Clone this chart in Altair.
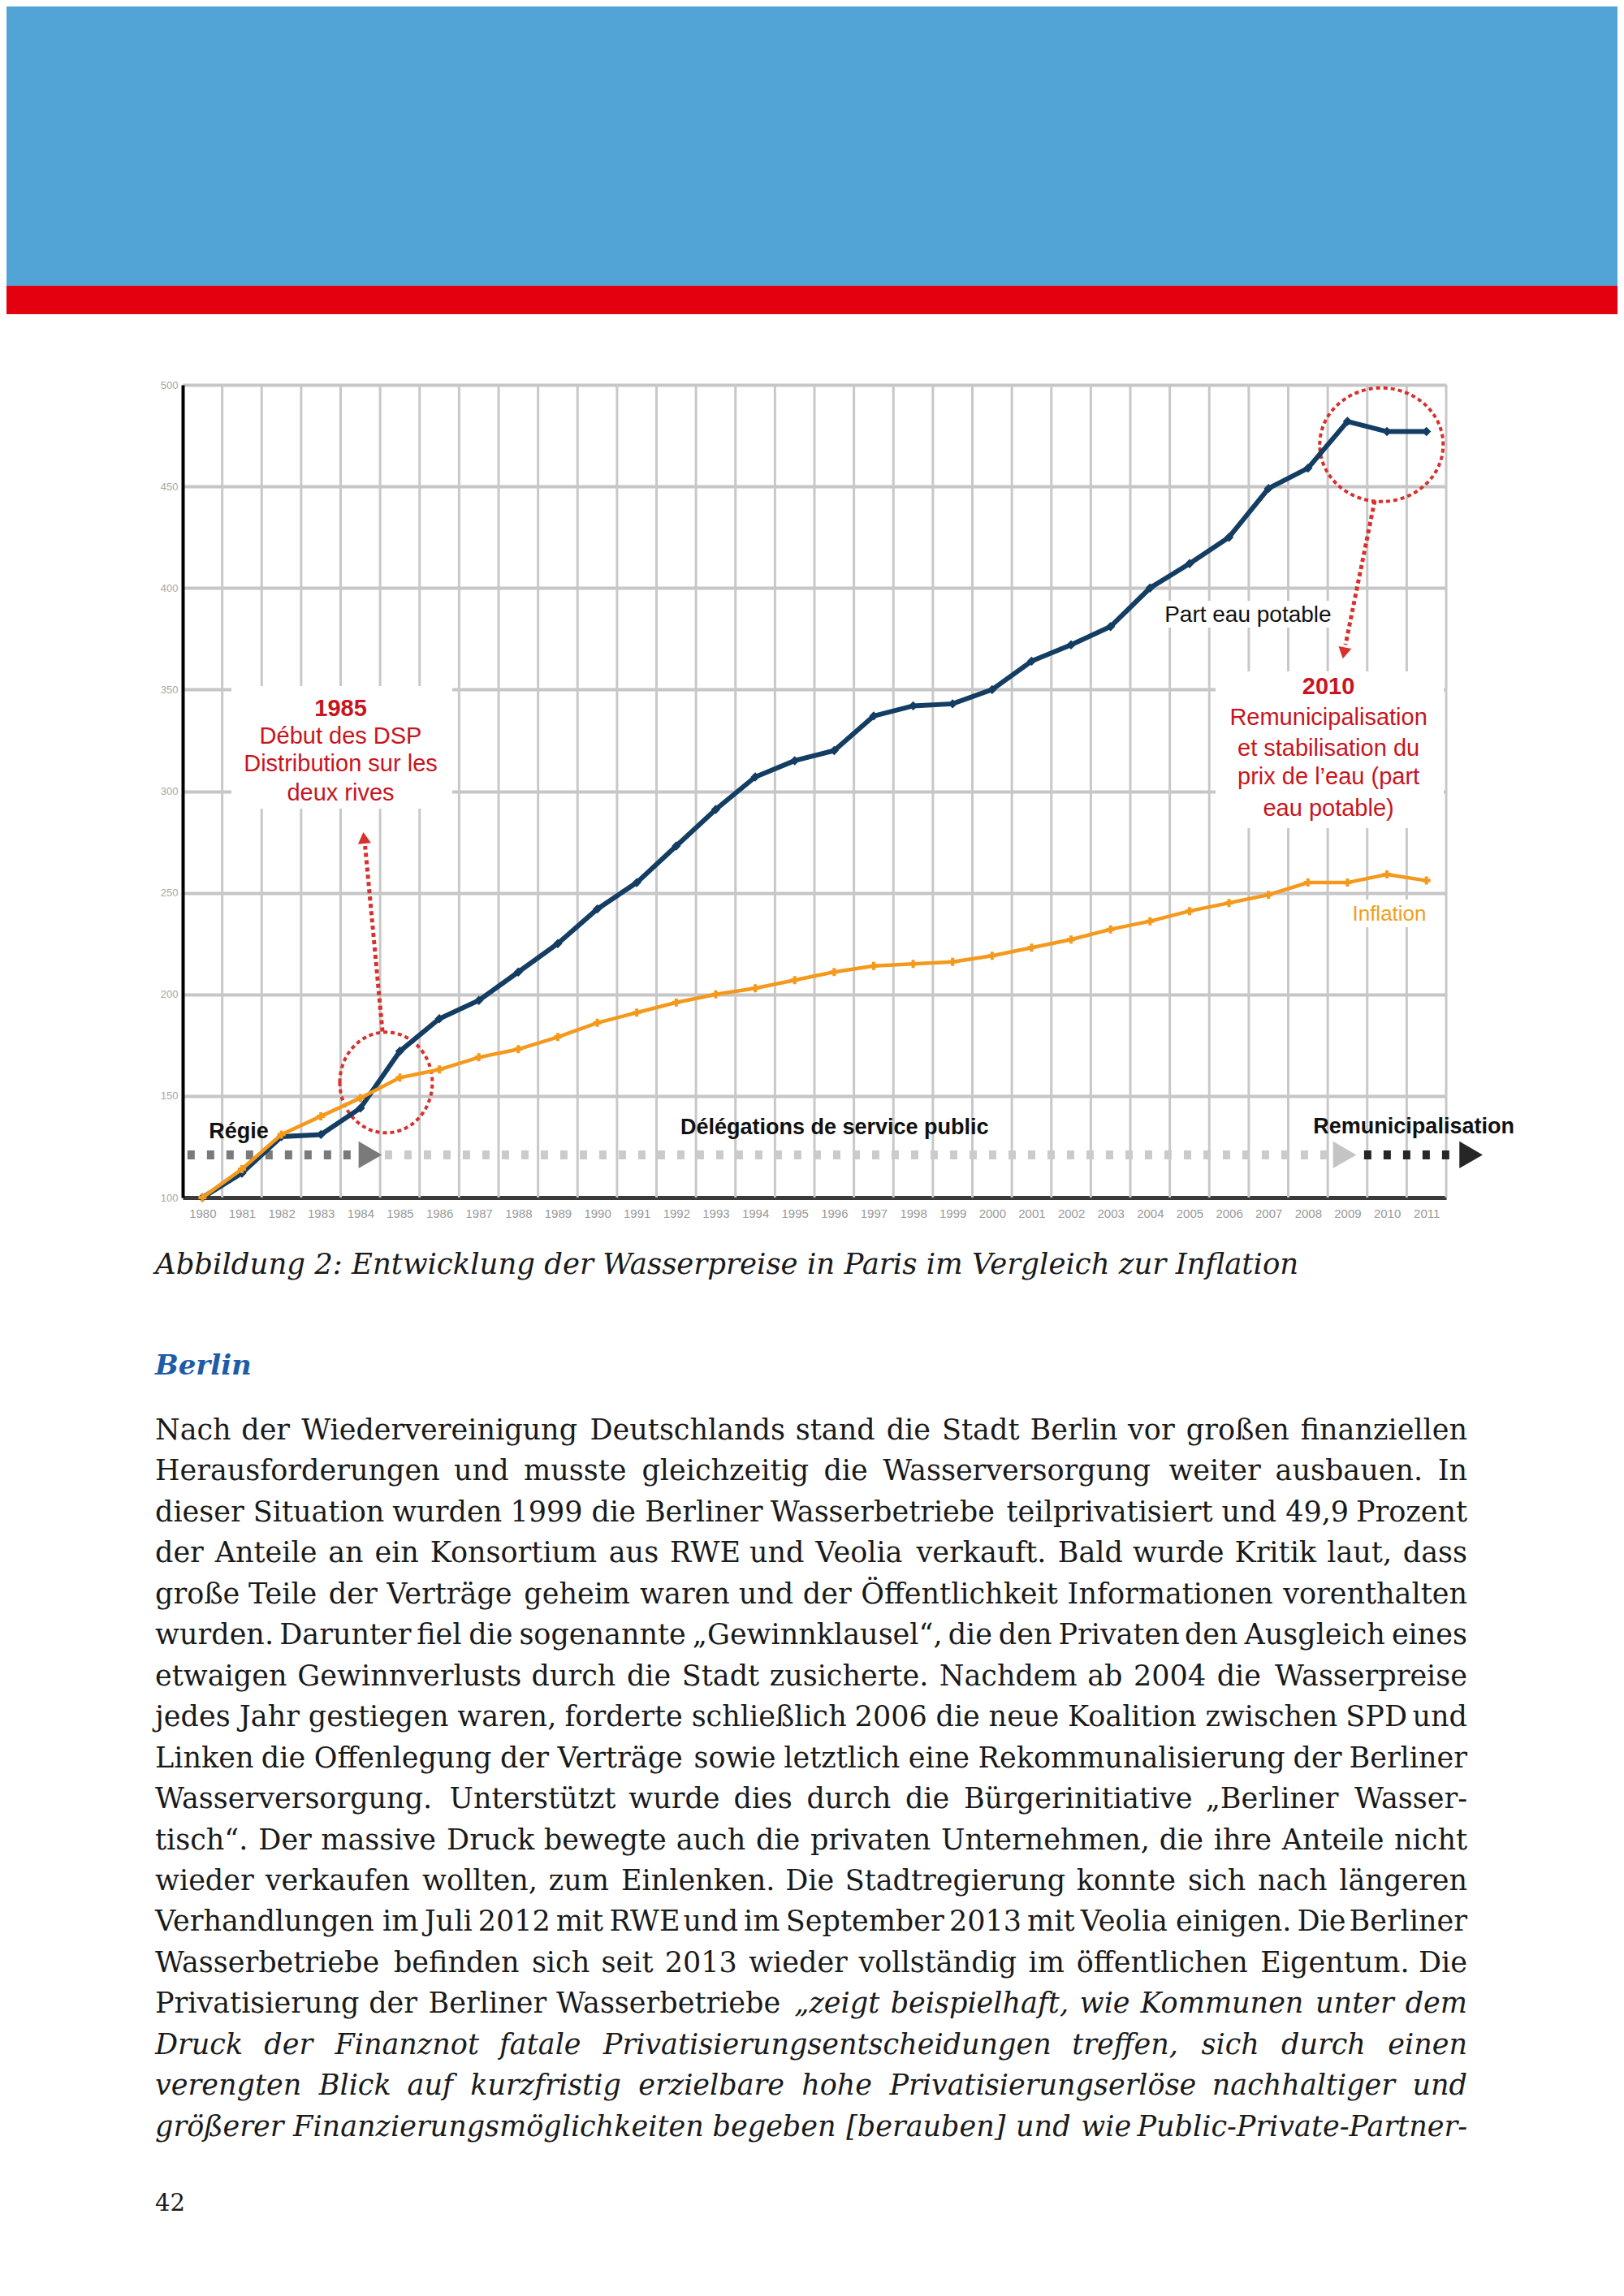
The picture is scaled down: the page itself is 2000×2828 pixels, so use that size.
import altair as alt
import pandas as pd

# ---------------- data ----------------
years = list(range(1980, 2012))
eau_potable = [100, 112, 130, 131, 144, 172, 188, 197, 211, 225,
               242, 255, 273, 291, 307, 315, 320, 337, 342, 343,
               350, 364, 372, 381, 400, 412, 425, 449, 459, 482,
               477, 477]
inflation = [100, 114, 131, 140, 149, 159, 163, 169, 173, 179,
             186, 191, 196, 200, 203, 207, 211, 214, 215, 216,
             219, 223, 227, 232, 236, 241, 245, 249, 255, 255,
             259, 256]
y_ticks = [100, 150, 200, 250, 300, 350, 400, 450, 500]

ann_1985 = ["1985", "Début des DSP", "Distribution sur les", "deux rives"]
ann_2010 = ["2010", "Remunicipalisation", "et stabilisation du",
            "prix de l’eau (part", "eau potable)"]
series_label = "Part eau potable"
inflation_label = "Inflation"
phase_labels = ["Régie", "Délégations de service public", "Remunicipalisation"]

caption = "Abbildung 2: Entwicklung der Wasserpreise in Paris im Vergleich zur Inflation"
heading = "Berlin"
# each body line: list of (text, italic)
body_lines = [
    [("Nach der Wiedervereinigung Deutschlands stand die Stadt Berlin vor großen finanziellen", False)],
    [("Herausforderungen und musste gleichzeitig die Wasserversorgung weiter ausbauen. In", False)],
    [("dieser Situation wurden 1999 die Berliner Wasserbetriebe teilprivatisiert und 49,9 Prozent", False)],
    [("der Anteile an ein Konsortium aus RWE und Veolia verkauft. Bald wurde Kritik laut, dass", False)],
    [("große Teile der Verträge geheim waren und der Öffentlichkeit Informationen vorenthalten", False)],
    [("wurden. Darunter fiel die sogenannte „Gewinnklausel“, die den Privaten den Ausgleich eines", False)],
    [("etwaigen Gewinnverlusts durch die Stadt zusicherte. Nachdem ab 2004 die Wasserpreise", False)],
    [("jedes Jahr gestiegen waren, forderte schließlich 2006 die neue Koalition zwischen SPD und", False)],
    [("Linken die Offenlegung der Verträge sowie letztlich eine Rekommunalisierung der Berliner", False)],
    [("Wasserversorgung. Unterstützt wurde dies durch die Bürgerinitiative „Berliner Wasser-", False)],
    [("tisch“. Der massive Druck bewegte auch die privaten Unternehmen, die ihre Anteile nicht", False)],
    [("wieder verkaufen wollten, zum Einlenken. Die Stadtregierung konnte sich nach längeren", False)],
    [("Verhandlungen im Juli 2012 mit RWE und im September 2013 mit Veolia einigen. Die Berliner", False)],
    [("Wasserbetriebe befinden sich seit 2013 wieder vollständig im öffentlichen Eigentum. Die", False)],
    [("Privatisierung der Berliner Wasserbetriebe", False),
     ("„zeigt beispielhaft, wie Kommunen unter dem", True)],
    [("Druck der Finanznot fatale Privatisierungsentscheidungen treffen, sich durch einen", True)],
    [("verengten Blick auf kurzfristig erzielbare hohe Privatisierungserlöse nachhaltiger und", True)],
    [("größerer Finanzierungsmöglichkeiten begeben [berauben] und wie Public-Private-Partner-", True)],
]
page_number = "42"

# ---------------- layout ----------------
W, H = 1556, 1001          # plot area
LEFT, TOP = 225, 474       # page position of plot area


def px(x):
    return x - LEFT


def py(y):
    return y - TOP


BLUE = "#133d63"
ORANGE = "#f4991c"
RED = "#c8151d"
SANS = "Liberation Sans"
SERIF = "DejaVu Serif"

xscale = alt.Scale(domain=[1979.5, 2011.5], nice=False, zero=False)
yscale = alt.Scale(domain=[100, 500], nice=False, zero=False)
xaxis = alt.Axis(values=years, format="d", grid=False, ticks=False,
                 labelFontSize=15, labelColor="#999999", labelFont=SANS,
                 domainColor="#3a3a3a", domainWidth=5, labelPadding=12,
                 labelFlush=False, labelOverlap=False, title=None)
yaxis = alt.Axis(values=y_ticks, grid=True, gridColor="#c6c6c6", gridWidth=4,
                 ticks=False, labelFontSize=13, labelColor="#a6a6a6",
                 labelFont=SANS, domainColor="#000000", domainWidth=4,
                 labelPadding=6, title=None)


def X(f="year"):
    return alt.X(f"{f}:Q", scale=xscale, axis=xaxis, title=None)


def Y(f="value"):
    return alt.Y(f"{f}:Q", scale=yscale, axis=yaxis, title=None)


one = pd.DataFrame({"k": [0]})
layers = []

# page header bands
layers.append(alt.Chart(one).mark_rect(color="#52a3d6").encode(
    x=alt.value(px(8)), x2=alt.value(px(1992)), y=alt.value(py(8)), y2=alt.value(py(352))))
layers.append(alt.Chart(one).mark_rect(color="#e3000f").encode(
    x=alt.value(px(8)), x2=alt.value(px(1992)), y=alt.value(py(352)), y2=alt.value(py(387))))

# vertical grid lines at year boundaries
bounds = pd.DataFrame({"year": [y + 0.5 for y in years]})
layers.append(alt.Chart(bounds).mark_rule(color="#c8c8c8", strokeWidth=3).encode(
    x=X(), y=alt.value(0), y2=alt.value(H)))

# white boxes behind annotations
boxes = [(285, 557, 845, 996), (1497, 1778, 827, 1020), (1433, 1645, 740, 773), (1660, 1762, 1108, 1142)]
for x1, x2, y1, y2 in boxes:
    layers.append(alt.Chart(one).mark_rect(color="white").encode(
        x=alt.value(px(x1)), x2=alt.value(px(x2)), y=alt.value(py(y1)), y2=alt.value(py(y2))))

# phase band (dashed arrows)
band_value = 121
segs = pd.DataFrame({
    "year": [1979.62, 1984.62, 2009.42],
    "year2": [1983.9, 2008.55, 2011.7],
    "value": [band_value] * 3,
    "col": ["#7a7a7a", "#cbcbcb", "#262626"],
})
layers.append(alt.Chart(segs).mark_rule(strokeWidth=11, strokeDash=[9, 15]).encode(
    x=X(), x2="year2:Q", y=Y(), color=alt.Color("col:N", scale=None)))
heads = pd.DataFrame({
    "year": [1984.25, 2008.93, 2012.13],
    "value": [band_value] * 3,
    "col": ["#7a7a7a", "#c4c4c4", "#262626"],
})
layers.append(alt.Chart(heads).mark_point(shape="triangle-right", filled=True, size=1100, opacity=1).encode(
    x=X(), y=Y(), color=alt.Color("col:N", scale=None)))

# red ellipses
e1 = pd.DataFrame({"year": [1984.65], "value": [156.6]})
layers.append(alt.Chart(e1).mark_point(
    shape="M -0.919 0 A 0.919 1 0 1 1 0.919 0 A 0.919 1 0 1 1 -0.919 0 Z",
    size=15376, filled=False, stroke="#d8302c", strokeWidth=4, strokeDash=[5, 4], opacity=1
).encode(x=X(), y=Y()))
e2 = pd.DataFrame({"year": [2009.86], "value": [470.5]})
layers.append(alt.Chart(e2).mark_point(
    shape="M -1 0 A 1 0.921 0 1 1 1 0 A 1 0.921 0 1 1 -1 0 Z",
    size=23104, filled=False, stroke="#d8302c", strokeWidth=4, strokeDash=[5, 4], opacity=1
).encode(x=X(), y=Y()))

# red dotted arrows
arrows = pd.DataFrame({
    "year": [1984.56, 2009.69], "value": [181.7, 443.0],
    "year2": [1984.12, 2008.95], "value2": [273.0, 372.0],
})
layers.append(alt.Chart(arrows).mark_rule(color="#d8302c", strokeWidth=5, strokeDash=[5, 4]).encode(
    x=X(), y=Y(), x2="year2:Q", y2="value2:Q"))
layers.append(alt.Chart(pd.DataFrame({"year": [1984.09], "value": [277.0]})).mark_point(
    shape="triangle-up", filled=True, size=260, color="#d8302c", opacity=1, angle=354).encode(x=X(), y=Y()))
layers.append(alt.Chart(pd.DataFrame({"year": [2008.91], "value": [368.0]})).mark_point(
    shape="triangle-down", filled=True, size=260, color="#d8302c", opacity=1, angle=11).encode(x=X(), y=Y()))

# series
blue_df = pd.DataFrame({"year": years, "value": eau_potable})
orange_df = pd.DataFrame({"year": years, "value": inflation})
layers.append(alt.Chart(blue_df).mark_line(color=BLUE, strokeWidth=6).encode(x=X(), y=Y()))
layers.append(alt.Chart(blue_df).mark_point(shape="diamond", filled=True, size=130, color=BLUE, opacity=1).encode(x=X(), y=Y()))
layers.append(alt.Chart(orange_df).mark_line(color=ORANGE, strokeWidth=4.5).encode(x=X(), y=Y()))
layers.append(alt.Chart(orange_df).mark_point(shape="cross", filled=True, size=100, color=ORANGE, opacity=1).encode(x=X(), y=Y()))

# annotation texts (data coordinates)
a1 = pd.DataFrame({"year": [1983.5] * 3, "value": [327.1, 313.5, 299.2], "t": ann_1985[1:]})
layers.append(alt.Chart(pd.DataFrame({"year": [1983.5], "value": [340.6], "t": [ann_1985[0]]})).mark_text(
    font=SANS, fontSize=29, fontWeight="bold", color=RED).encode(x=X(), y=Y(), text="t:N"))
layers.append(alt.Chart(a1).mark_text(font=SANS, fontSize=29, color=RED).encode(x=X(), y=Y(), text="t:N"))

a2 = pd.DataFrame({"year": [2008.52] * 4, "value": [336.3, 321.1, 306.8, 291.6], "t": ann_2010[1:]})
layers.append(alt.Chart(pd.DataFrame({"year": [2008.52], "value": [351.4], "t": [ann_2010[0]]})).mark_text(
    font=SANS, fontSize=29, fontWeight="bold", color=RED).encode(x=X(), y=Y(), text="t:N"))
layers.append(alt.Chart(a2).mark_text(font=SANS, fontSize=29, color=RED).encode(x=X(), y=Y(), text="t:N"))

layers.append(alt.Chart(pd.DataFrame({"year": [2006.48], "value": [386.5], "t": [series_label]})).mark_text(
    font=SANS, fontSize=28, color="#111111").encode(x=X(), y=Y(), text="t:N"))
layers.append(alt.Chart(pd.DataFrame({"year": [2010.06], "value": [239.5], "t": [inflation_label]})).mark_text(
    font=SANS, fontSize=26, color="#f2a01a").encode(x=X(), y=Y(), text="t:N"))

phases = pd.DataFrame({"year": [1980.92, 1996.01, 2010.68], "value": [132.3, 134.3, 134.9], "t": phase_labels})
layers.append(alt.Chart(phases).mark_text(font=SANS, fontSize=27, fontWeight="bold", color="#111111").encode(
    x=X(), y=Y(), text="t:N"))


# ---------------- page texts ----------------
def page_text(s, x, y, size, align="left", **kw):
    return alt.Chart(one).mark_text(text=s, align=align, baseline="middle", fontSize=size,
                                    font=SERIF, **kw).encode(x=alt.value(px(x)), y=alt.value(py(y)))


# approximate DejaVu Serif advance widths (em), used only to justify lines
CW = {" ": .318, ".": .318, ",": .318, "-": .338, ":": .337, "„": .52, "“": .52,
      "[": .39, "]": .39, "(": .39, ")": .39,
      "a": .596, "b": .640, "c": .559, "d": .640, "e": .592, "f": .372, "g": .640,
      "h": .645, "i": .320, "j": .320, "k": .611, "l": .320, "m": .960, "n": .645,
      "o": .602, "p": .640, "q": .640, "r": .478, "s": .513, "t": .401, "u": .645,
      "v": .569, "w": .835, "x": .569, "y": .569, "z": .523, "ß": .640,
      "ä": .596, "ö": .602, "ü": .645,
      "A": .722, "B": .688, "C": .732, "D": .765, "E": .668, "F": .628, "G": .778,
      "H": .835, "I": .394, "J": .40, "K": .725, "L": .621, "M": .997, "N": .833,
      "O": .787, "P": .614, "R": .698, "S": .657, "T": .673, "U": .802, "V": .722,
      "W": 1.042, "Z": .667, "Ö": .787}
for d in "0123456789":
    CW[d] = .636

BODY = 35
L_MARGIN, R_MARGIN = 191, 1807
line_y0, line_step = 1762, 50.45

rows = []
for i, segments in enumerate(body_lines):
    words = []
    for text, it in segments:
        for w in text.split(" "):
            words.append((w, it))
    widths = [sum(CW.get(c, .6) for c in w) * BODY for w, _ in words]
    gap = (R_MARGIN - L_MARGIN - sum(widths)) / (len(words) - 1)
    x = L_MARGIN
    for k, ((w, it), wd) in enumerate(zip(words, widths)):
        last = k == len(words) - 1
        rows.append({"wx": px(R_MARGIN if last else x), "wy": py(line_y0 + i * line_step),
                     "w": w, "it": it, "last": last})
        x += wd + gap
words_df = pd.DataFrame(rows)

layers.append(page_text(caption, 191, 1558, 35.5, fontStyle="italic", color="#1a1a1a"))
layers.append(page_text(heading, 191, 1683, 34, fontStyle="italic", fontWeight="bold", color="#1f5ca8"))
for it in (False, True):
    for last in (False, True):
        sub = words_df[(words_df["it"] == it) & (words_df["last"] == last)]
        if len(sub) == 0:
            continue
        layers.append(alt.Chart(sub).mark_text(
            align="right" if last else "left", baseline="middle", fontSize=BODY, font=SERIF,
            fontStyle="italic" if it else "normal", color="#1a1a1a"
        ).encode(x=alt.X("wx:Q", scale=None, axis=None), y=alt.Y("wy:Q", scale=None, axis=None),
                 text="w:N"))
layers.append(page_text(page_number, 191, 2714, 29, color="#1a1a1a"))

chart = alt.layer(*layers).properties(
    width=W, height=H, padding=0, background="white"
).configure_view(stroke=None)

chart.save("out.html", embed_options={"renderer": "svg", "actions": False})
